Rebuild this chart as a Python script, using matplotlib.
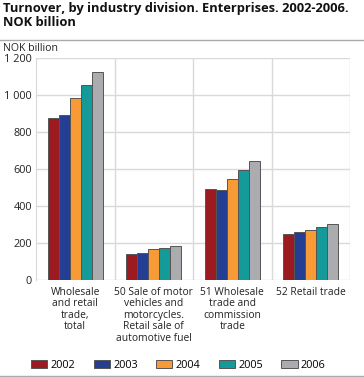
import matplotlib.pyplot as plt
import numpy as np
from matplotlib.lines import Line2D

plt.rcParams['font.family'] = ['Open Sans', 'DejaVu Sans']

categories = ['Wholesale\nand retail\ntrade,\ntotal',
              '50 Sale of motor\nvehicles and\nmotorcycles.\nRetail sale of\nautomotive fuel',
              '51 Wholesale\ntrade and\ncommission\ntrade',
              '52 Retail trade']
years = ['2002', '2003', '2004', '2005', '2006']
v2002 = [876, 141, 492, 250]
v2003 = [890, 146, 488, 261]
v2004 = [980, 166, 545, 272]
v2005 = [1051, 173, 593, 288]
v2006 = [1124, 186, 642, 304]
series = [v2002, v2003, v2004, v2005, v2006]
colors = ['#9b1b20', '#233e92', '#f89a36', '#139a99', '#aaacb0']

fig = plt.figure(figsize=(3.64, 3.77), dpi=100)
ax = fig.add_axes([36 / 364, 1 - 280 / 377, (350 - 36) / 364, (280 - 57.5) / 377])

x = np.arange(len(categories))
w = 0.14
for k, vals in enumerate(series):
    ax.bar(x + (k - 2) * w, vals, w, color=colors[k], edgecolor='#555555',
           linewidth=0.7, label=years[k], zorder=3)

ax.set_xlim(-0.5, 3.5)
ax.set_ylim(0, 1200)
ax.set_yticks(range(0, 1201, 200))
ax.set_yticklabels(['0', '200', '400', '600', '800', '1 000', '1 200'])
ax.set_xticks(x)
ax.set_xticklabels(categories, fontsize=7.4, color='#222222', linespacing=1.05)
ax.tick_params(axis='y', labelsize=7.8, colors='#222222', length=0, pad=3)
ax.tick_params(axis='x', length=0, pad=5)
ax.grid(axis='y', color='#d9d9d9', linewidth=1, zorder=0)
for xv in [0.5, 1.5, 2.5, 3.5]:
    ax.axvline(xv, color='#d9d9d9', linewidth=1, zorder=0)
for s in ['top', 'right', 'left', 'bottom']:
    ax.spines[s].set_visible(False)
ax.spines['left'].set_visible(True)
ax.spines['left'].set_color('#d9d9d9')

fig.text(0.008, 0.995, 'Turnover, by industry division. Enterprises. 2002-2006.\nNOK billion',
         fontsize=9.3, fontweight='bold', va='top', ha='left', linespacing=1.1, color='#111111')
fig.add_artist(Line2D([0, 1], [1 - 40 / 377, 1 - 40 / 377], color='#aaaaaa', linewidth=1))
fig.add_artist(Line2D([0, 1], [1 - 375.5 / 377, 1 - 375.5 / 377], color='#aaaaaa', linewidth=1))
fig.text(0.008, 1 - 43 / 377, 'NOK billion', fontsize=7.6, va='top', ha='left', color='#222222')

fig.legend(loc='center', bbox_to_anchor=(0.49, 1 - 365 / 377), ncol=5, frameon=False,
           fontsize=7.8, handlelength=1.5, handleheight=0.7, columnspacing=1.7,
           handletextpad=0.3, borderaxespad=0)

fig.savefig('out.png', dpi=100)
